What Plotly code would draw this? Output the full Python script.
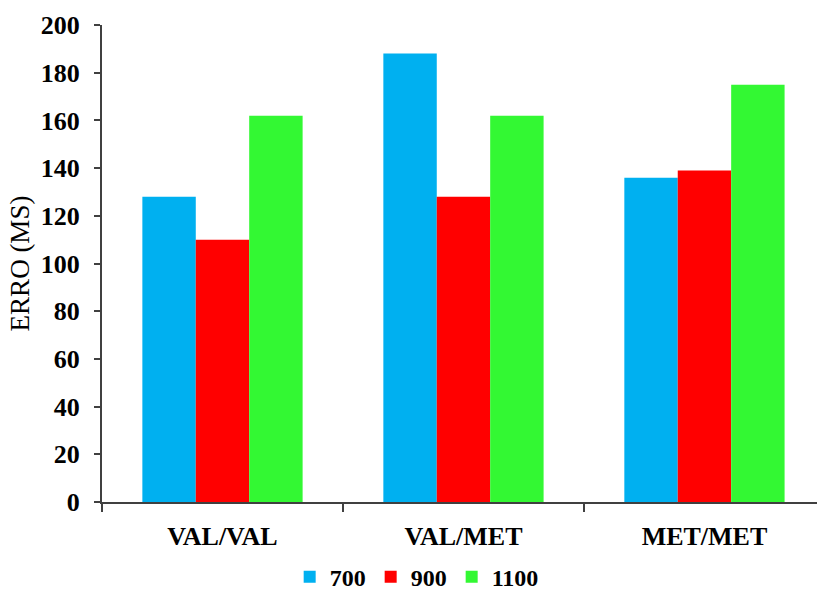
import plotly.graph_objects as go

categories = ["VAL/VAL", "VAL/MET", "MET/MET"]
series_names = ["700", "900", "1100"]
values_700 = [128, 188, 136]
values_900 = [110, 128, 139]
values_1100 = [162, 162, 175]
y_ticks = [0, 20, 40, 60, 80, 100, 120, 140, 160, 180, 200]

colors = ["#00B0F0", "#FF0000", "#33F833"]
series_values = [values_700, values_900, values_1100]

font_family = "Liberation Serif, Times New Roman, serif"

fig = go.Figure()
for name, vals, col in zip(series_names, series_values, colors):
    fig.add_trace(go.Bar(
        x=categories, y=vals, name=name,
        marker=dict(color=col, line=dict(width=0)),
    ))

fig.update_layout(
    width=817, height=592,
    margin=dict(l=102, r=0, t=25, b=90),
    paper_bgcolor="white", plot_bgcolor="white",
    barmode="group", bargap=0.335, bargroupgap=0,
    font=dict(family=font_family, color="black"),
    showlegend=True,
    legend=dict(
        orientation="h", xref="container", yref="container",
        x=0.51, xanchor="center", y=0.025, yanchor="middle",
        font=dict(family=font_family, size=24, color="black", weight="bold"),
        itemwidth=30, tracegroupgap=0, borderwidth=0,
    ),
    xaxis=dict(
        range=[-0.5, 2.467], automargin=False,
        showline=True, linecolor="#404040", linewidth=2,
        ticks="outside", tickson="boundaries", ticklen=8, tickcolor="#404040", tickwidth=1.5,
        tickfont=dict(family=font_family, size=26, color="black", weight="bold"),
        ticklabelstandoff=10,
        showgrid=False, zeroline=False,
    ),
    yaxis=dict(
        range=[0, 200], tickvals=y_ticks, automargin=False,
        showline=True, linecolor="#404040", linewidth=2,
        ticks="outside", ticklen=6, tickcolor="#404040", tickwidth=1.5,
        tickfont=dict(family=font_family, size=26, color="black", weight="bold"),
        ticklabelstandoff=9,
        showgrid=False, zeroline=False,
        title=dict(text="ERRO (MS)", font=dict(family=font_family, size=27, color="black"), standoff=3),
    ),
)

fig.write_html("out.html")
